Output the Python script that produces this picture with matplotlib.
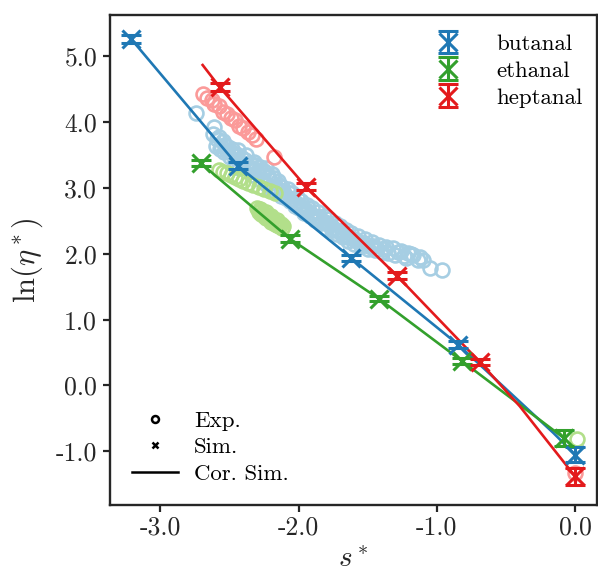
import matplotlib
matplotlib.use("Agg")
import matplotlib.pyplot as plt
from matplotlib.lines import Line2D

plt.rcParams['font.family'] = 'serif'
plt.rcParams['font.serif'] = ['cmr10', 'DejaVu Serif']
plt.rcParams['mathtext.fontset'] = 'cm'
plt.rcParams['axes.unicode_minus'] = False

# ---------------- data ----------------
names = ["butanal", "ethanal", "heptanal"]
dark = {"butanal": "#1f78b4", "ethanal": "#33a02c", "heptanal": "#e31a1c"}
light = {"butanal": "#a6cee3", "ethanal": "#b2df8a", "heptanal": "#fb9a99"}

# experimental (open circles)
exp_s_butanal = [-2.74, -2.61, -2.62, -2.58, -2.60, -2.55, -2.57, -2.53, -2.50, -2.52,
                 -2.48, -2.46, -2.45, -2.43, -2.41, -2.40, -2.38, -2.36, -2.35, -2.33,
                 -2.31, -2.30, -2.28, -2.27, -2.25, -2.23, -2.22, -2.20, -2.18, -2.17,
                 -2.15, -2.13, -2.12, -2.10, -2.08, -2.06, -2.05, -2.03, -2.01, -2.00,
                 -1.98, -1.96, -1.94, -1.92, -1.90, -1.88, -1.86, -1.84, -1.82, -1.80,
                 -1.78, -1.76, -1.74, -1.72, -1.70, -1.68, -1.66, -1.64, -1.62, -1.60,
                 -1.57, -1.55, -1.52, -1.50, -1.47, -1.45, -1.42, -1.40, -1.37, -1.35,
                 -1.32, -1.30, -1.26, -1.21, -1.22, -1.14, -1.17, -1.10, -1.05, -0.96,
                 -2.59, -2.56, -2.54, -2.51, -2.49, -2.47, -2.44, -2.42, -2.39, -2.37,
                 -2.34, -2.32, -2.29, -2.26, -2.24, -2.21, -2.19, -2.16, -2.14, -2.11,
                 -2.09, -2.07, -2.04, -2.02, -1.99, -1.97, -1.95, -1.93, -1.91, -1.89,
                 -1.87, -1.85, -1.83, -1.81, -1.79, -1.77, -1.75, -1.73, -1.71, -1.69,
                 -1.67, -1.65, -1.63, -1.61, -1.58, -1.56, -1.53, -1.51, -1.48, -1.46,
                 -1.43, -1.38, -1.28, -1.24, -1.19, -1.12]
exp_y_butanal = [4.14, 3.93, 3.82, 3.77, 3.64, 3.72, 3.60, 3.66, 3.47, 3.57,
                 3.60, 3.40, 3.52, 3.30, 3.46, 3.36, 3.50, 3.27, 3.38, 3.20,
                 3.35, 3.24, 3.32, 3.12, 3.26, 3.05, 3.18, 2.98, 3.16, 3.03,
                 3.10, 2.88, 3.02, 2.90, 2.99, 2.80, 2.92, 2.72, 2.86, 2.70,
                 2.80, 2.62, 2.74, 2.57, 2.69, 2.51, 2.64, 2.47, 2.58, 2.40,
                 2.53, 2.36, 2.47, 2.30, 2.42, 2.26, 2.36, 2.20, 2.32, 2.15,
                 2.27, 2.12, 2.22, 2.08, 2.18, 2.06, 2.14, 2.03, 2.10, 2.02,
                 2.09, 1.99, 2.05, 2.01, 1.94, 1.91, 1.98, 1.90, 1.79, 1.76,
                 3.75, 3.64, 3.55, 3.63, 3.55, 3.48, 3.58, 3.40, 3.43, 3.33,
                 3.30, 3.40, 3.28, 3.20, 3.30, 3.12, 3.22, 3.00, 3.05, 2.95,
                 2.85, 2.93, 2.83, 2.78, 2.75, 2.68, 2.66, 2.70, 2.60, 2.58,
                 2.55, 2.56, 2.50, 2.48, 2.45, 2.44, 2.40, 2.37, 2.35, 2.33,
                 2.29, 2.27, 2.25, 2.22, 2.20, 2.18, 2.16, 2.14, 2.11, 2.12,
                 2.08, 2.07, 2.03, 1.97, 2.00, 1.95]

exp_s_ethanal = [-2.58, -2.55, -2.52, -2.49, -2.46, -2.43, -2.40, -2.37, -2.33, -2.29,
                 -2.25, -2.21, -2.17,
                 -2.30, -2.29, -2.28, -2.27, -2.27, -2.26, -2.25, -2.24, -2.24, -2.23,
                 -2.22, -2.21, -2.20, -2.20, -2.19, -2.18, -2.17, -2.16, -2.16, -2.15,
                 -2.14, -2.13, -2.12, -2.11,
                 0.013]
exp_y_ethanal = [3.28, 3.25, 3.23, 3.20, 3.17, 3.14, 3.11, 3.08, 3.05, 3.02,
                 2.99, 2.95, 2.92,
                 2.70, 2.64, 2.68, 2.60, 2.66, 2.62, 2.58, 2.63, 2.55, 2.59,
                 2.56, 2.52, 2.57, 2.49, 2.53, 2.50, 2.46, 2.51, 2.44, 2.47,
                 2.42, 2.45, 2.40, 2.42,
                 -0.82]

exp_s_heptanal = [-2.69, -2.66, -2.63, -2.61, -2.58, -2.55, -2.52, -2.49, -2.46, -2.43,
                  -2.40, -2.37, -2.34, -2.31, -2.18, 0.0]
exp_y_heptanal = [4.43, 4.37, 4.34, 4.27, 4.24, 4.16, 4.13, 4.06, 4.03, 3.95,
                  3.92, 3.85, 3.81, 3.75, 3.47, -1.33]

# simulation (x markers with error bars)
sim_s_butanal = [-3.21, -2.44, -1.62, -0.845, 0.0]
sim_y_butanal = [5.26, 3.34, 1.94, 0.62, -1.05]
sim_e_butanal = [0.06, 0.05, 0.05, 0.05, 0.12]

sim_s_ethanal = [-2.71, -2.063, -1.42, -0.817, -0.08]
sim_y_ethanal = [3.38, 2.23, 1.32, 0.37, -0.80]
sim_e_ethanal = [0.05, 0.05, 0.04, 0.05, 0.12]

sim_s_heptanal = [-2.57, -1.947, -1.29, -0.688, 0.0]
sim_y_heptanal = [4.53, 3.02, 1.67, 0.355, -1.38]
sim_e_heptanal = [0.06, 0.05, 0.05, 0.05, 0.13]

# correlated simulation lines (vertices)
cor_s_butanal = [-3.21, -2.44, -1.62, -0.845, -0.157, 0.0]
cor_y_butanal = [5.26, 3.34, 1.94, 0.62, -0.72, -1.05]
cor_s_ethanal = [-2.71, -2.063, -1.42, -1.122, -0.817, -0.08]
cor_y_ethanal = [3.38, 2.23, 1.32, 0.85, 0.37, -0.80]
cor_s_heptanal = [-2.695, -2.57, -1.947, -1.29, -0.688, -0.40, 0.0]
cor_y_heptanal = [4.87, 4.53, 3.02, 1.67, 0.355, -0.315, -1.38]

exp_data = {"butanal": (exp_s_butanal, exp_y_butanal),
            "ethanal": (exp_s_ethanal, exp_y_ethanal),
            "heptanal": (exp_s_heptanal, exp_y_heptanal)}
sim_data = {"butanal": (sim_s_butanal, sim_y_butanal, sim_e_butanal),
            "ethanal": (sim_s_ethanal, sim_y_ethanal, sim_e_ethanal),
            "heptanal": (sim_s_heptanal, sim_y_heptanal, sim_e_heptanal)}
cor_data = {"butanal": (cor_s_butanal, cor_y_butanal),
            "ethanal": (cor_s_ethanal, cor_y_ethanal),
            "heptanal": (cor_s_heptanal, cor_y_heptanal)}

xticks = [-3.0, -2.0, -1.0, 0.0]
xticklabels = ["-3.0", "-2.0", "-1.0", "0.0"]
yticks = [-1.0, 0.0, 1.0, 2.0, 3.0, 4.0, 5.0]
yticklabels = ["-1.0", "0.0", "1.0", "2.0", "3.0", "4.0", "5.0"]

# ---------------- figure ----------------
W, H = 598, 573
fig = plt.figure(figsize=(W / 100, H / 100), dpi=100)
ax = fig.add_axes([109.5 / W, (H - 505) / H, (597 - 109.5) / W, (505 - 15) / H])

for n in names:
    s, y = exp_data[n]
    ax.plot(s, y, ls='none', marker='o', ms=10, mfc='none', mec=light[n], mew=1.9, zorder=2)

handles = []
for n in names:
    s, y = cor_data[n]
    ax.plot(s, y, color=dark[n], lw=1.9, zorder=3)
for n in names:
    s, y, e = sim_data[n]
    h = ax.errorbar(s, y, yerr=e, ls='none', marker='x', ms=13.5, mew=2.2,
                    color=dark[n], ecolor=dark[n], elinewidth=2.2, capsize=7,
                    capthick=2.2, zorder=4, label=n)
    handles.append(h)

ax.set_xlim(-3.369, 0.159)
ax.set_ylim(-1.816, 5.63)
ax.set_xticks(xticks)
ax.set_xticklabels(xticklabels)
ax.set_yticks(yticks)
ax.set_yticklabels(yticklabels)
ax.tick_params(direction='out', length=5, width=1.6, labelsize=18.5, pad=4,
               color='#262626', labelcolor='#262626')
ax.tick_params(axis='x', pad=3)
for sp in ax.spines.values():
    sp.set_linewidth(1.7)
    sp.set_color('#262626')

ax.set_xlabel(r'$s^*$', fontsize=21, color='#262626', labelpad=5)
ax.set_ylabel(r'$\ln(\eta^*)$', fontsize=22, color='#262626', labelpad=8)

leg1 = ax.legend(handles, names, loc='upper right', frameon=False, fontsize=16.5,
                 handlelength=1.2, labelspacing=0.3, handletextpad=1.5,
                 borderaxespad=0.0, bbox_to_anchor=(0.99, 0.98))
ax.add_artist(leg1)

h_exp = Line2D([], [], ls='none', marker='o', ms=5, mfc='none', mec='k', mew=1.8)
h_sim = Line2D([], [], ls='none', marker='x', ms=5, mec='k', mew=1.8)
h_cor = Line2D([], [], color='k', lw=1.8)
ax.legend([h_exp, h_sim, h_cor], ["Exp.", "Sim.", "Cor. Sim."], loc='lower left',
          frameon=False, fontsize=16.5, handlelength=2.0, labelspacing=0.28,
          handletextpad=0.7, borderaxespad=0.0, bbox_to_anchor=(0.028, 0.025))

fig.savefig("out.png", dpi=100)
